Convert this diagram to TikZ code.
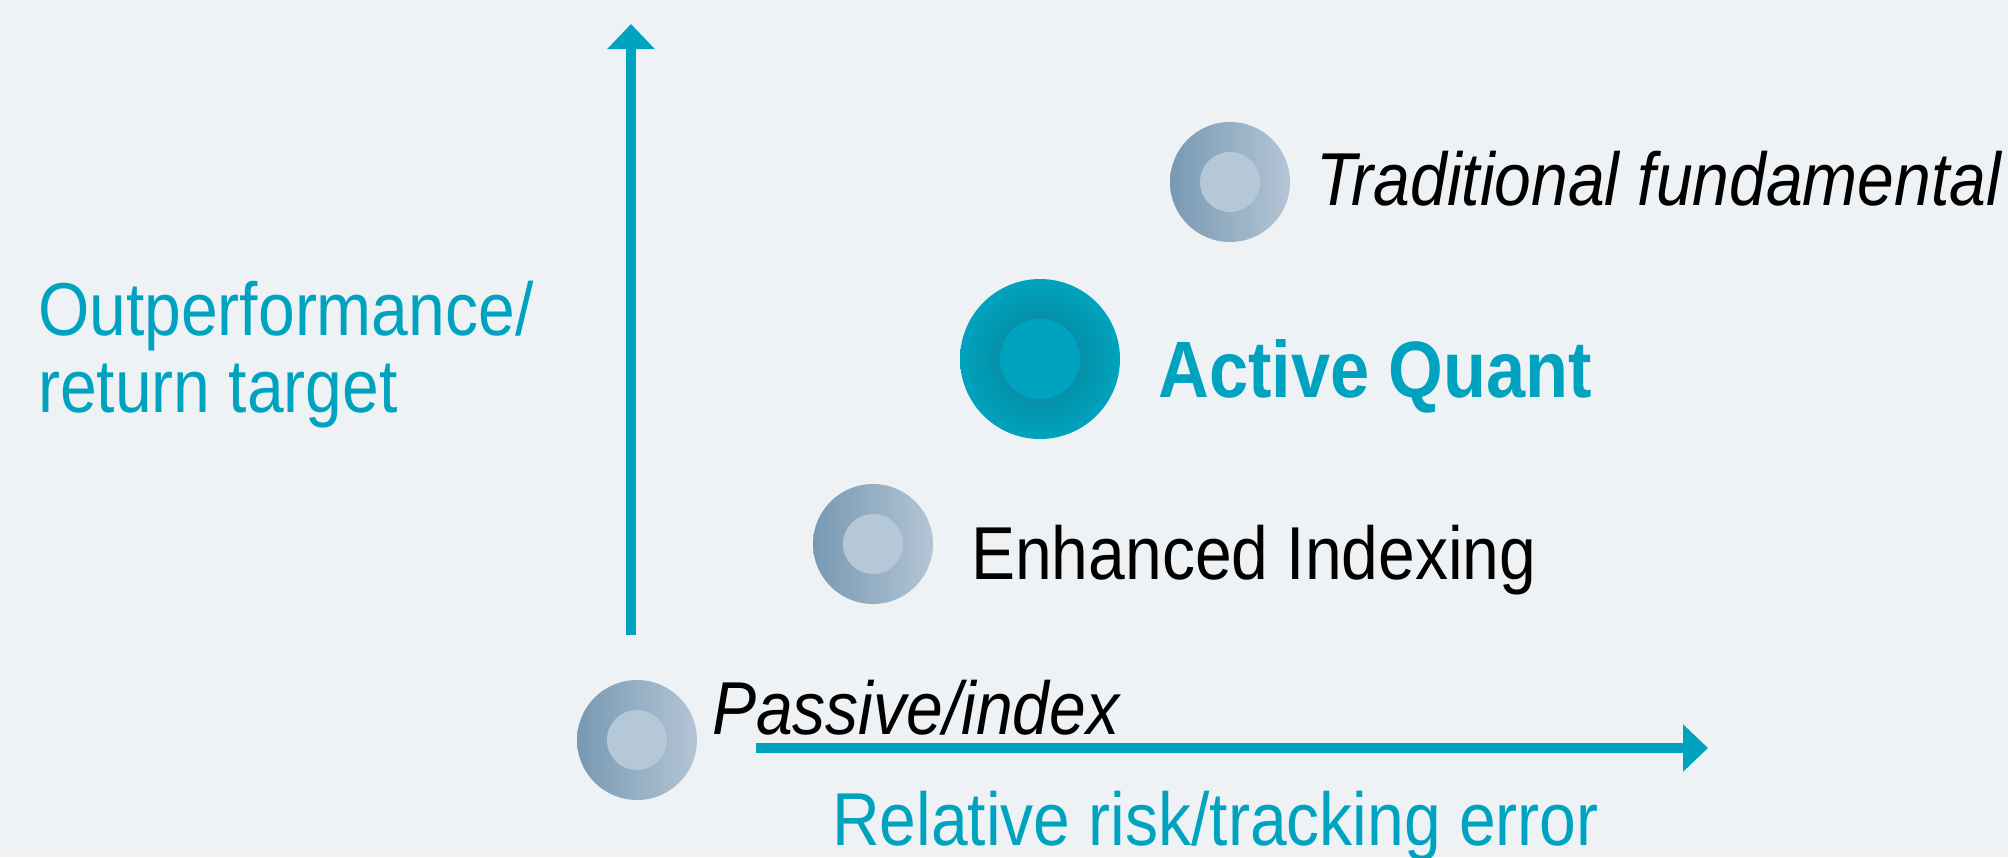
\documentclass[tikz,border=0pt]{standalone}
\usepackage{fontspec}
\setmainfont{Liberation Sans}[FakeStretch=0.88]
\usetikzlibrary{arrows.meta}
\definecolor{bgc}{HTML}{EFF2F5}
\definecolor{aqteal}{HTML}{00A3BF}
\definecolor{aqdark}{HTML}{0590A8}
\definecolor{ringL}{HTML}{7899B3}
\definecolor{ringR}{HTML}{B3C5D5}
\definecolor{coreC}{HTML}{B5C8D8}
\pgfdeclareradialshading{aqshade}{\pgfpoint{0bp}{0bp}}{color(0bp)=(aqdark); color(12.5bp)=(aqdark); color(25bp)=(aqteal); color(50bp)=(aqteal)}
\begin{document}
\begin{tikzpicture}[x=1pt,y=-1pt,
  axisarrow/.style={draw=aqteal, line width=10pt, -{Triangle[width=46pt,length=25pt]}},
  ring/.style={circle, inner sep=0pt, minimum size=120pt, left color=ringL, right color=ringR},
  core/.style={circle, inner sep=0pt, minimum size=60pt, fill=coreC},
  bigring/.style={circle, inner sep=0pt, minimum size=160pt, shading=aqshade},
  bigcore/.style={circle, inner sep=0pt, minimum size=80pt, fill=aqteal},
  lbl/.style={anchor=base west, inner sep=0pt, font=\fontsize{75}{77}\selectfont},
]
\fill[bgc] (0,0) rectangle (2008,857);
\useasboundingbox (0,0) rectangle (2008,857);

% axes
\coordinate (ybot) at (631,635);
\coordinate (ytop) at (631,24);
\coordinate (xleft) at (756,748);
\coordinate (xright) at (1708,748);
\draw[axisarrow] (ybot) -- (ytop);
\draw[axisarrow] (xleft) -- (xright);

% axis labels
\node[lbl, align=left, text=aqteal] (ylab) at (38,412) {Outperformance/\\return target};
\node[lbl, text=aqteal] (xlab) at (832,845) {Relative risk/tracking error};

% points
\node[ring] (passring) at (637,740) {};
\node[core] (passcore) at (passring.center) {};
\node[lbl] (pass) at (712,734) {\itshape Passive/index};

\node[ring] (enhring) at (873,544) {};
\node[core] (enhcore) at (enhring.center) {};
\node[lbl] (enh) at (971,579) {Enhanced Indexing};

\node[bigring] (aqring) at (1040,359) {};
\node[bigcore] (aqcore) at (aqring.center) {};
\node[lbl, text=aqteal, font=\fontsize{80}{82}\selectfont\bfseries] (aq) at (1158,397) {Active Quant};

\node[ring] (tradring) at (1230,182) {};
\node[core] (tradcore) at (tradring.center) {};
\node[lbl] (trad) at (1316,205) {\itshape Traditional fundamental};
\end{tikzpicture}
\end{document}
